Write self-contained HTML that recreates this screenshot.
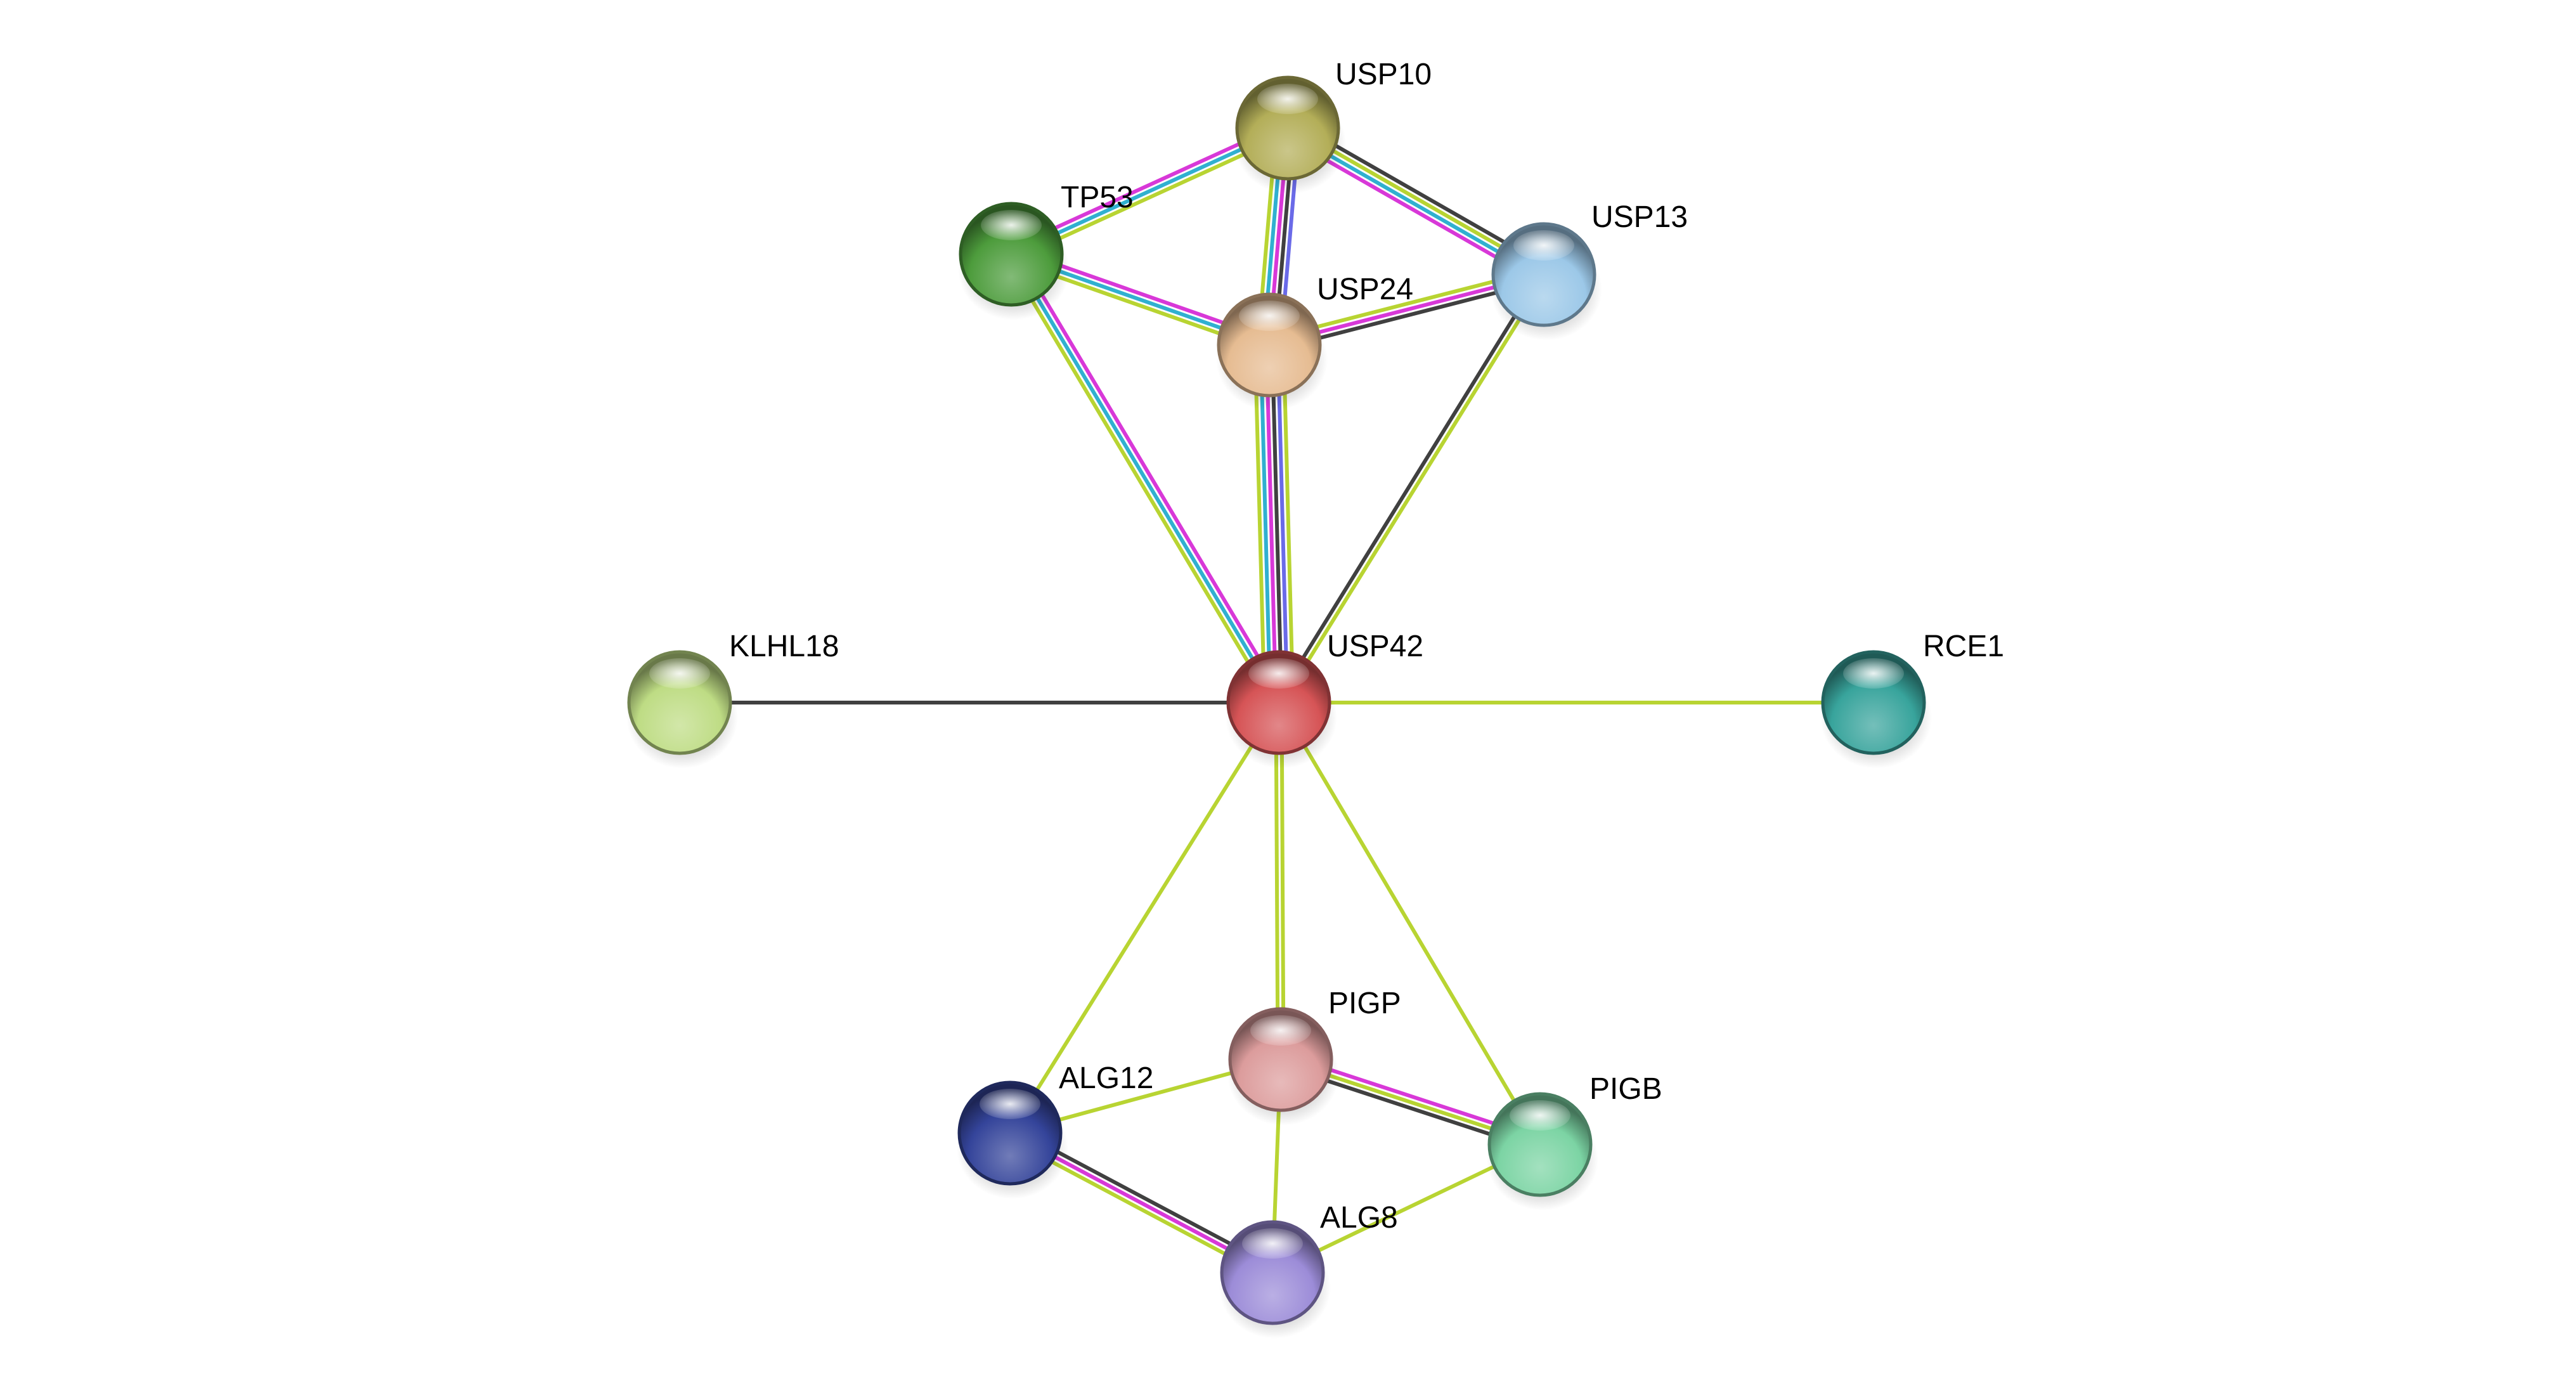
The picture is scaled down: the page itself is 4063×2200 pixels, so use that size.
<!DOCTYPE html>
<html><head><meta charset="utf-8">
<style>
html,body{margin:0;padding:0;background:#fff;width:4063px;height:2200px;overflow:hidden}
svg text{font-family:"Liberation Sans",sans-serif;font-size:48px;fill:#000}
</style></head>
<body>
<svg id="s" width="4063" height="2200" viewBox="0 0 4063 2200" xmlns="http://www.w3.org/2000/svg">
<defs>
<radialGradient id="hl" cx="50%" cy="50%" r="50%"><stop offset="0" stop-color="#fff" stop-opacity="0.9"/><stop offset="1" stop-color="#fff" stop-opacity="0.15"/></radialGradient>
<radialGradient id="sh" cx="50%" cy="50%" r="50%"><stop offset="0" stop-color="#000" stop-opacity="0.45"/><stop offset="1" stop-color="#000" stop-opacity="0"/></radialGradient>
</defs>
<g id="edges"></g>
<g id="nodes"></g>
<g id="labels">
<text x="2106" y="133">USP10</text>
<text x="1673" y="327">TP53</text>
<text x="2510" y="358">USP13</text>
<text x="2077" y="472">USP24</text>
<text x="2093" y="1035">USP42</text>
<text x="1150" y="1035">KLHL18</text>
<text x="3033" y="1035">RCE1</text>
<text x="2095" y="1598">PIGP</text>
<text x="1670" y="1716">ALG12</text>
<text x="2507" y="1733">PIGB</text>
<text x="2082" y="1936">ALG8</text>
</g>
</svg>
<script>
var N={USP10:[2031,202,'#b3ae58'],TP53:[1595,401,'#4d9c3c'],USP13:[2435,433,'#9cc8e8'],USP24:[2002,544,'#e6bc92'],
USP42:[2017,1108,'#d65456'],KLHL18:[1072,1108,'#bedc84'],RCE1:[2955,1108,'#38a49c'],PIGP:[2020,1671,'#dc9c9c'],
ALG12:[1593,1787,'#34449a'],PIGB:[2429,1805,'#7cd4a4'],ALG8:[2007,2007,'#9c8cd8']};
var Y='#b8d432',M='#d838d8',C='#30b0d0',K='#404040',B='#6a6ae8';
var E=[['TP53','USP10',[M,C,Y]],['USP10','USP13',[K,Y,C,M]],['USP10','USP24',[B,K,M,C,Y]],['TP53','USP24',[M,C,Y]],
['USP24','USP13',[Y,M,K]],['TP53','USP42',[M,C,Y]],['USP24','USP42',[Y,B,K,M,C,Y]],['USP13','USP42',[Y,K]],
['KLHL18','USP42',[K]],['USP42','RCE1',[Y]],['USP42','PIGP',[Y,Y]],['USP42','ALG12',[Y]],['USP42','PIGB',[Y]],
['PIGP','ALG12',[Y]],['PIGP','PIGB',[M,Y,K]],['ALG12','ALG8',[K,M,Y]],['PIGP','ALG8',[Y]],['PIGB','ALG8',[Y]]];
var ns='http://www.w3.org/2000/svg',eg=document.getElementById('edges'),ng=document.getElementById('nodes');
function el(t,a,p){var e=document.createElementNS(ns,t);for(var k in a)e.setAttribute(k,a[k]);p.appendChild(e);return e;}
function mix(c,t,f){var r=parseInt(c.substr(1,2),16),g=parseInt(c.substr(3,2),16),b=parseInt(c.substr(5,2),16);
r=Math.round(r+(t-r)*f);g=Math.round(g+(t-g)*f);b=Math.round(b+(t-b)*f);return 'rgb('+r+','+g+','+b+')';}
E.forEach(function(e){var a=N[e[0]],b=N[e[1]],dx=b[0]-a[0],dy=b[1]-a[1],L=Math.hypot(dx,dy),px=-dy/L,py=dx/L,n=e[2].length,sp=9;
e[2].forEach(function(c,i){var o=(i-(n-1)/2)*sp;el('line',{x1:a[0]+px*o,y1:a[1]+py*o,x2:b[0]+px*o,y2:b[1]+py*o,stroke:c,'stroke-width':6},eg);});});
var i=0,defs=document.querySelector('defs');for(var k in N){var n=N[k],x=n[0],y=n[1],c=n[2],id='g'+(i++);
var g=el('radialGradient',{id:id,cx:'50%',cy:'72%',r:'62%'},defs);
el('stop',{offset:'0','stop-color':mix(c,255,0.3)},g);el('stop',{offset:'0.65','stop-color':c},g);el('stop',{offset:'1','stop-color':mix(c,0,0.45)},g);
el('ellipse',{cx:x+4,cy:y+24,rx:88,ry:80,fill:'url(#sh)'},ng);
el('circle',{cx:x,cy:y,r:82,fill:'url(#'+id+')'},ng);
el('circle',{cx:x,cy:y,r:80,fill:'none',stroke:mix(c,0,0.4),'stroke-width':5},ng);
el('ellipse',{cx:x,cy:y-46,rx:48,ry:24,fill:'url(#hl)'},ng);}
</script>
</body></html>
